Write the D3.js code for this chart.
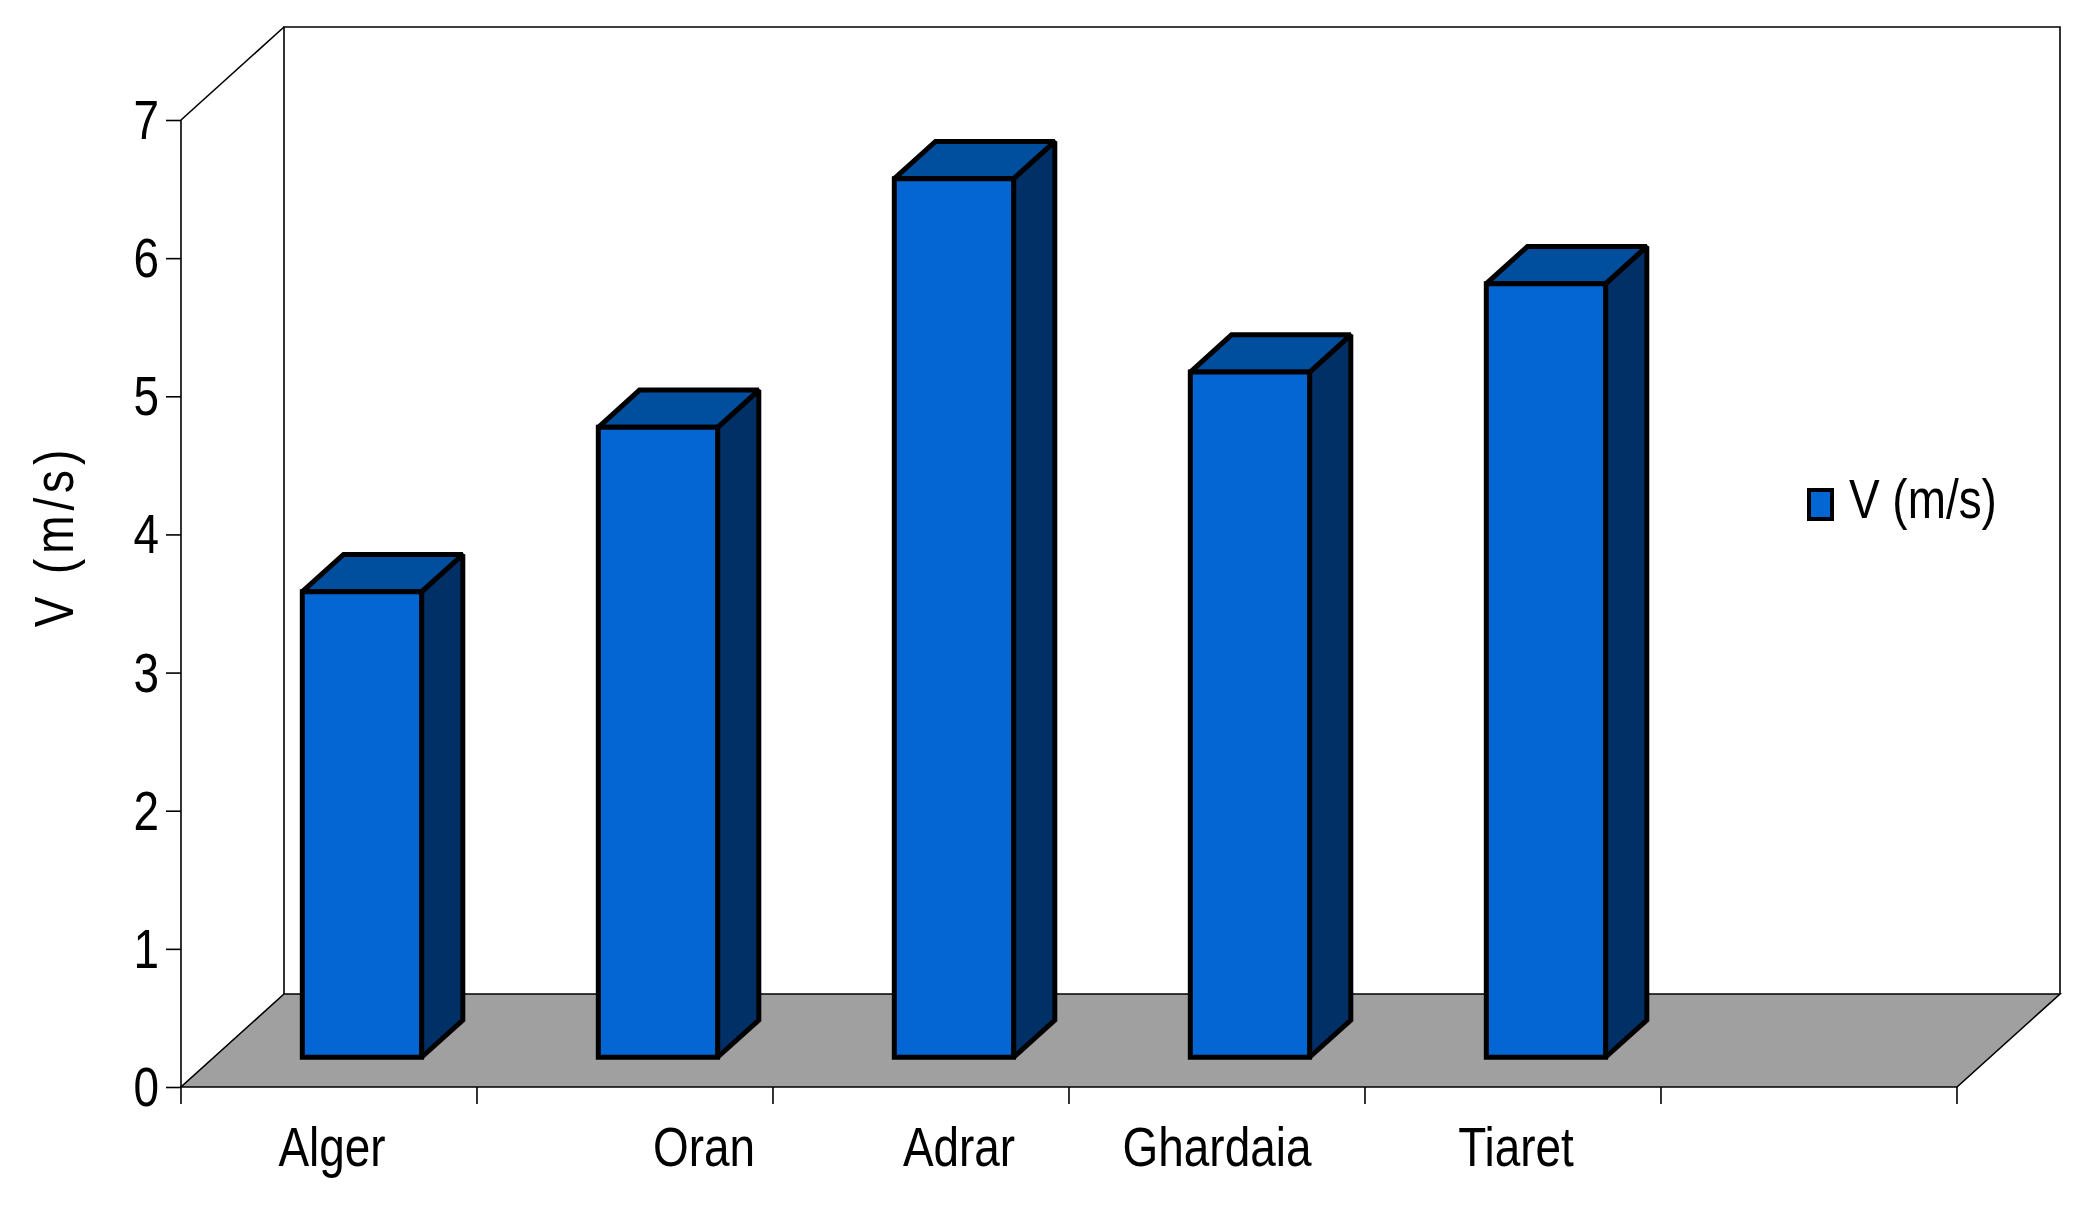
<!DOCTYPE html>
<html>
<head>
<meta charset="utf-8">
<script src="https://cdn.jsdelivr.net/npm/d3@7"></script>
<style>
  html, body { margin: 0; padding: 0; background: #fff; }
  svg { display: block; }
  text { font-family: "Liberation Sans", Arial, sans-serif; fill: #000; }
</style>
</head>
<body>
<svg id="chart" width="2092" height="1208"></svg>
<script>
// ---- data ----
const categories = ["Alger", "Oran", "Adrar", "Ghardaia", "Tiaret"];
const values = [3.37, 4.56, 6.36, 4.96, 5.60];
const yTicks = [0, 1, 2, 3, 4, 5, 6, 7];
const seriesName = "V (m/s)";
const yTitle = "V (m/s)";

(function () {
// ---- layout ----
const W = 2092, H = 1208;
const pLeft = 181, pRight = 1957, pBottom = 1087, pTop = 120;
const DX = 103, DY = 93;       // 3D depth offset
const f0 = 0.32, f1 = 0.72;    // bar depth range (fraction of depth)
const fontSize = 56;
const sx = 0.82;               // narrow font compression
const labelShift = [3, 79, 38, 0, 3];

const svg = d3.select("#chart");
svg.append("rect").attr("width", W).attr("height", H).attr("fill", "#fff");

const slots = categories.map((c, i) => String(i)).concat([String(categories.length)]);
const x = d3.scaleBand().domain(slots).range([pLeft, pRight]).paddingInner(0).paddingOuter(0);
const y = d3.scaleLinear().domain([0, 7]).range([pBottom, pTop]);

const poly = (pts) => "M" + pts.map(p => p.join(",")).join("L") + "Z";
const axisStroke = 1.6;

// back wall
svg.append("path")
  .attr("d", `M${pLeft + DX},${pBottom - DY}L${pLeft + DX},${pTop - DY}L${pRight + DX},${pTop - DY}L${pRight + DX},${pBottom - DY}`)
  .attr("fill", "none").attr("stroke", "#000").attr("stroke-width", axisStroke);
// left wall top diagonal
svg.append("path")
  .attr("d", `M${pLeft},${pTop}L${pLeft + DX},${pTop - DY}`)
  .attr("fill", "none").attr("stroke", "#000").attr("stroke-width", axisStroke);

// floor
svg.append("path")
  .attr("d", poly([[pLeft, pBottom], [pRight, pBottom], [pRight + DX, pBottom - DY], [pLeft + DX, pBottom - DY]]))
  .attr("fill", "#a0a0a0").attr("stroke", "#000").attr("stroke-width", axisStroke);

// y axis (front)
const yAxis = d3.axisLeft(y).tickValues(yTicks).tickSize(15).tickPadding(6).tickFormat(d3.format("d"));
const gy = svg.append("g").attr("transform", `translate(${pLeft},0)`).call(yAxis);
gy.attr("font-family", null).attr("font-size", null);
gy.select(".domain").remove();
gy.selectAll(".tick line").attr("stroke", "#000").attr("stroke-width", axisStroke);
gy.selectAll(".tick text")
  .attr("font-size", fontSize)
  .attr("dy", "0.33em")
  .attr("x", -22 / sx)
  .attr("transform", `scale(${sx},1)`);
svg.append("line").attr("x1", pLeft).attr("x2", pLeft).attr("y1", pTop).attr("y2", pBottom)
  .attr("stroke", "#000").attr("stroke-width", axisStroke);

// x axis ticks (category boundaries)
const boundaries = slots.map(s => x(s)).concat([pRight]);
svg.append("g").selectAll("line").data(boundaries).join("line")
  .attr("x1", d => d).attr("x2", d => d)
  .attr("y1", pBottom).attr("y2", pBottom + 17)
  .attr("stroke", "#000").attr("stroke-width", axisStroke);

// x labels
svg.append("g").selectAll("text").data(categories).join("text")
  .attr("transform", (d, i) => `translate(${x(String(i)) + x.bandwidth() / 2 + labelShift[i]},1166) scale(${sx},1)`)
  .attr("text-anchor", "middle")
  .attr("font-size", fontSize)
  .text(d => d);

// bars
const barW = x.bandwidth() * 0.403;
const dd = (f1 - f0) * DX, ee = (f1 - f0) * DY;
const bars = svg.append("g").attr("stroke", "#000").attr("stroke-width", 5)
  .attr("stroke-linejoin", "miter").attr("stroke-miterlimit", 1.5);
categories.forEach((c, i) => {
  const x0 = x(String(i)) + (x.bandwidth() - barW) / 2 + f0 * DX;
  const x1 = x0 + barW;
  const yb = y(0) - f0 * DY;
  const yt = y(values[i]) - f0 * DY;
  const g = bars.append("g");
  g.append("path").attr("d", poly([[x1, yt], [x1, yb], [x1 + dd, yb - ee], [x1 + dd, yt - ee]])).attr("fill", "#003066");
  g.append("path").attr("d", poly([[x0, yt], [x1, yt], [x1 + dd, yt - ee], [x0 + dd, yt - ee]])).attr("fill", "#004e9e");
  g.append("path").attr("d", poly([[x0, yb], [x1, yb], [x1, yt], [x0, yt]])).attr("fill", "#0366d3");
});

// y-axis title
svg.append("text")
  .attr("transform", `translate(73,536) rotate(-90) scale(${sx},1)`)
  .attr("text-anchor", "middle")
  .attr("font-size", fontSize)
  .attr("letter-spacing", 6)
  .text(yTitle);

// legend
svg.append("rect").attr("x", 1809).attr("y", 490).attr("width", 23).attr("height", 29)
  .attr("fill", "#0366d3").attr("stroke", "#000").attr("stroke-width", 4);
svg.append("text")
  .attr("transform", `translate(1849,518) scale(${sx},1)`)
  .attr("font-size", fontSize).text(seriesName);
})();
</script>
</body>
</html>
